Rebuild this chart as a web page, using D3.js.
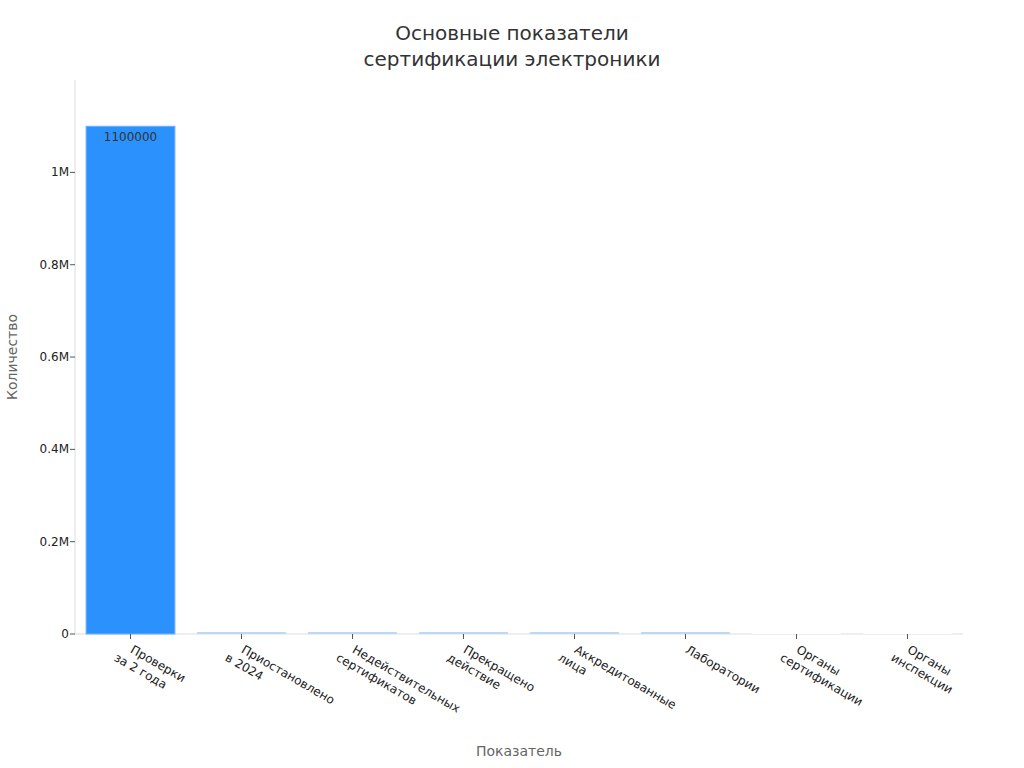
<!DOCTYPE html><html><head><meta charset="utf-8"><script src="https://cdn.jsdelivr.net/npm/d3@7"></script>
<style>body{margin:0;background:#fff;font-family:"DejaVu Sans",sans-serif}</style></head><body><svg width="1024" height="768"></svg>
<script>
const categories=[["Проверки","за 2 года"],["Приостановлено","в 2024"],["Недействительных","сертификатов"],["Прекращено","действие"],["Аккредитованные","лица"],["Лаборатории"],["Органы","сертификации"],["Органы","инспекции"]];
const values=[1100000,1500,1200,4000,4000,2000,300,60];
const yTicks=[0,200000,400000,600000,800000,1000000];
const yTickLabels=["0","0.2M","0.4M","0.6M","0.8M","1M"];
const svg=d3.select("svg");
const m={l:75,r:963,t:80,b:634};
const x=d3.scaleBand().domain(d3.range(categories.length)).range([m.l,m.r]).paddingInner(0.2).paddingOuter(0.1);
const y=d3.scaleLinear().domain([0,1100000/0.9165]).range([m.b,m.t]);
svg.append("line").attr("x1",m.l).attr("x2",m.l).attr("y1",m.t).attr("y2",m.b).attr("stroke","#ddd");
svg.append("line").attr("x1",m.l).attr("x2",m.r).attr("y1",m.b).attr("y2",m.b).attr("stroke","#ddd");
const g=svg.append("g");
g.selectAll("rect").data(values).join("rect").attr("x",(d,i)=>x(i)).attr("width",x.bandwidth())
 .attr("y",d=>Math.min(y(d),m.b-2)).attr("height",d=>Math.max(m.b-y(d),2))
 .attr("fill",d=>d>100000?"#2b91fc":(d>=1000?"#bcd8f5":"#fff")).attr("stroke",d=>d>100000?"#6cb1ff":"none");
g.append("text").attr("x",x(0)+x.bandwidth()/2).attr("y",y(values[0])+15).attr("text-anchor","middle").attr("font-size",12).attr("fill","#333").text(values[0]);
yTicks.forEach((t,i)=>{svg.append("line").attr("x1",m.l-5).attr("x2",m.l).attr("y1",y(t)).attr("y2",y(t)).attr("stroke","#555");
 svg.append("text").attr("x",m.l-6).attr("y",y(t)+4).attr("text-anchor","end").attr("font-size",12).attr("fill","#222").text(yTickLabels[i]);});
categories.forEach((c,i)=>{const cx=x(i)+x.bandwidth()/2;
 svg.append("line").attr("x1",cx).attr("x2",cx).attr("y1",m.b).attr("y2",m.b+5).attr("stroke","#555");
 const t=svg.append("text").attr("transform",`translate(${cx-1},${m.b+18}) rotate(30)`).attr("font-size",12).attr("fill","#222");
 c.forEach((l,j)=>t.append("tspan").attr("x",c.length>1&&j==0?0:(c.length>1?-10:0)).attr("dy",j?15:0).attr("text-anchor","start").text(l));});
svg.append("text").attr("x",519).attr("y",756).attr("text-anchor","middle").attr("font-size",14).attr("fill","#666").text("Показатель");
svg.append("text").attr("transform","translate(17,357) rotate(-90)").attr("text-anchor","middle").attr("font-size",14).attr("fill","#666").text("Количество");
svg.append("text").attr("x",512).attr("y",40).attr("text-anchor","middle").attr("font-size",20).attr("fill","#333").text("Основные показатели");
svg.append("text").attr("x",512).attr("y",66).attr("text-anchor","middle").attr("font-size",20).attr("fill","#333").text("сертификации электроники");
</script></body></html>
